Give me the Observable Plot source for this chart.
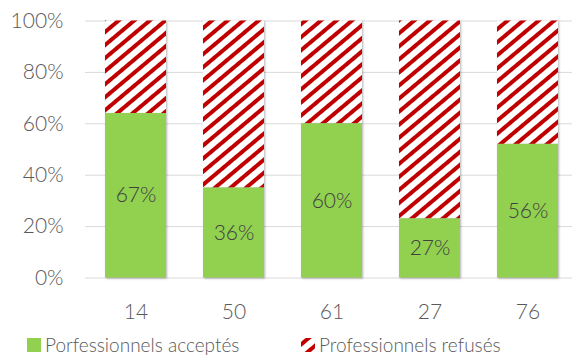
<!DOCTYPE html>
<html>
<head>
<meta charset="utf-8">
<script src="https://cdn.jsdelivr.net/npm/d3@7"></script>
<script src="https://cdn.jsdelivr.net/npm/@observablehq/plot@0.6"></script>
<style>
  html, body { margin: 0; padding: 0; background: #fff; }
  #wrap { position: relative; width: 572px; height: 360px; overflow: hidden; font-family: Lato, sans-serif; font-weight: 300; }
  #wrap svg { display: block; }
  #wrap svg text { font-weight: 300; }
  g[aria-label="bar"] { filter: drop-shadow(1.5px 1.5px 1.2px rgba(0,0,0,0.3)); }
  .legend { position: absolute; top: 330px; left: 0; width: 572px; height: 30px; }
  .item { position: absolute; top: 3px; display: flex; align-items: center; font-size: 19px; color: #595959; white-space: nowrap; }
  .sw { width: 14px; height: 14px; margin-right: 4px; display: inline-block; }
  .sw svg { display: block; }
</style>
</head>
<body>
<div id="wrap"></div>
<script>
const categories = ["14", "50", "61", "27", "76"];
const accepted = [64, 35, 60, 23, 52];
const refused = [36, 65, 40, 77, 48];
const labels = ["67%", "36%", "60%", "27%", "56%"];
const yTicks = [0, 20, 40, 60, 80, 100];
const seriesNames = ["Porfessionnels acceptés", "Professionnels refusés"];
const GREEN = "#92D050";
const RED = "#C00000";

const rows = categories.map((c, i) => ({
  cat: c,
  acc: accepted[i],
  top: accepted[i] + refused[i],
  label: labels[i]
}));

const plot = Plot.plot({
  width: 572,
  height: 330,
  marginLeft: 85,
  marginRight: -6,
  marginTop: 20.5,
  marginBottom: 52.5,
  style: { fontFamily: "Lato, sans-serif", fontSize: "21px", color: "#595959", background: "#fff" },
  x: { domain: categories, paddingInner: 0.378, paddingOuter: 0.189, tickSize: 0, tickPadding: 26, label: null },
  y: { domain: [0, 100], ticks: yTicks, tickFormat: d => d + "%", tickSize: 0, tickPadding: 22, label: null },
  marks: [
    Plot.ruleY(yTicks, { stroke: "#d9d9d9", strokeWidth: 1 }),
    Plot.barY(rows, { x: "cat", y1: d => d.acc, y2: "top", fill: "url(#hatch)" }),
    Plot.barY(rows, { x: "cat", y1: () => 0, y2: "acc", fill: GREEN }),
    Plot.text(rows, { x: "cat", y: d => d.acc / 2, text: "label", fill: "#404040", fontSize: 21, fontWeight: 300 })
  ]
});

const defs = d3.select(plot).insert("defs", ":first-child");
const pat = defs.append("pattern")
  .attr("id", "hatch")
  .attr("patternUnits", "userSpaceOnUse")
  .attr("width", 10).attr("height", 10)
  .attr("patternTransform", "rotate(-40)");
pat.append("rect").attr("width", 10).attr("height", 10).attr("fill", "#fff");
pat.append("rect").attr("width", 10).attr("height", 4).attr("fill", RED);

const wrap = document.getElementById("wrap");
wrap.appendChild(plot);

const legend = document.createElement("div");
legend.className = "legend";
legend.innerHTML = `
  <div class="item" style="left:27px"><span class="sw" style="background:${GREEN}"></span>${seriesNames[0]}</div>
  <div class="item" style="left:301px"><span class="sw"><svg width="14" height="14">
    <defs><pattern id="hatchL" patternUnits="userSpaceOnUse" width="10" height="10" patternTransform="rotate(-40) translate(0,3)">
      <rect width="10" height="10" fill="#fff"/><rect width="10" height="4" fill="${RED}"/></pattern></defs>
    <rect width="14" height="14" fill="url(#hatchL)"/></svg></span>${seriesNames[1]}</div>`;
wrap.appendChild(legend);
</script>
</body>
</html>
